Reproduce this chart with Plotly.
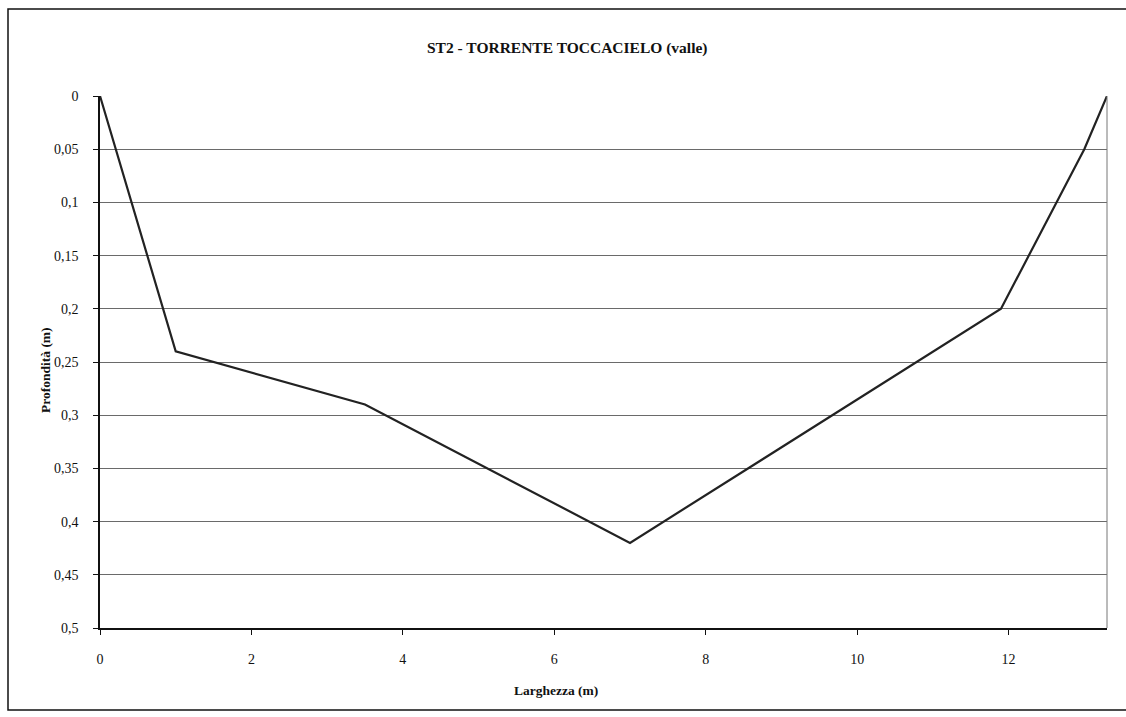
import plotly.graph_objects as go

# Cross-section survey: width along the section (m) and water depth (m)
larghezza = [0, 1.0, 3.5, 7.0, 11.9, 13.0, 13.3]
profondita = [0, 0.24, 0.29, 0.42, 0.20, 0.05, 0]

y_ticks = [0, 0.05, 0.1, 0.15, 0.2, 0.25, 0.3, 0.35, 0.4, 0.45, 0.5]
y_labels = ["0", "0,05", "0,1", "0,15", "0,2", "0,25", "0,3", "0,35", "0,4", "0,45", "0,5"]
x_ticks = [0, 2, 4, 6, 8, 10, 12]

W, H = 1126, 717
L, R, T, B = 100, 19, 96, 89

fig = go.Figure()
fig.add_trace(go.Scatter(
    x=larghezza, y=profondita, mode="lines",
    line=dict(color="#222", width=2.2),
    hoverinfo="x+y", showlegend=False,
))

serif = "Liberation Serif, Times New Roman, serif"

fig.update_layout(
    width=W, height=H,
    margin=dict(l=L, r=R, t=T, b=B),
    paper_bgcolor="white", plot_bgcolor="white",
    font=dict(family=serif, size=13, color="#111"),
    separators=",.",
    xaxis=dict(
        range=[0, 13.3], tickvals=x_ticks, ticktext=[str(v) for v in x_ticks],
        showgrid=False, zeroline=False,
        showline=True, linecolor="#111", linewidth=1.5,
        ticks="outside", ticklen=5, tickcolor="#111",
        tickfont=dict(size=14, family=serif),
        ticklabelstandoff=12,
    ),
    yaxis=dict(
        range=[0.5, 0], tickvals=y_ticks, ticktext=y_labels,
        showgrid=True, gridcolor="#6a6a6a", gridwidth=1,
        zeroline=False,
        showline=True, linecolor="#111", linewidth=1.5,
        ticks="outside", ticklen=5, tickcolor="#111",
        tickfont=dict(size=14, family=serif),
        ticklabelstandoff=12,
    ),
    annotations=[
        dict(text="<b>ST2 - TORRENTE TOCCACIELO (valle)</b>", xref="paper", yref="paper",
             x=(567 - L) / (W - L - R), y=1 + (T - 48) / (H - T - B),
             xanchor="center", yanchor="middle",
             showarrow=False, font=dict(size=15.5, family=serif, color="#111")),
        dict(text="<b>Larghezza (m)</b>", xref="paper", yref="paper",
             x=(556 - L) / (W - L - R), y=-(690 - (H - B)) / (H - T - B),
             xanchor="center", yanchor="middle",
             showarrow=False, font=dict(size=13.5, family=serif, color="#111")),
        dict(text="<b>Profondità (m)</b>", xref="paper", yref="paper",
             x=-(L - 45) / (W - L - R), y=1 - (370 - T) / (H - T - B),
             xanchor="center", yanchor="middle", textangle=-90,
             showarrow=False, font=dict(size=13.5, family=serif, color="#111")),
    ],
    shapes=[
        # thin right border of the plot area
        dict(type="line", xref="paper", yref="paper", x0=1, x1=1, y0=0, y1=1,
             line=dict(color="#777", width=1)),
        # outer chart frame
        dict(type="rect", xref="paper", yref="paper",
             x0=-(L - 8) / (W - L - R), x1=1 + (R + 10) / (W - L - R),
             y0=-(710 - (H - B)) / (H - T - B), y1=1 + (T - 9) / (H - T - B),
             line=dict(color="#111", width=1.5), layer="below"),
    ],
)

fig.write_html("out.html")
